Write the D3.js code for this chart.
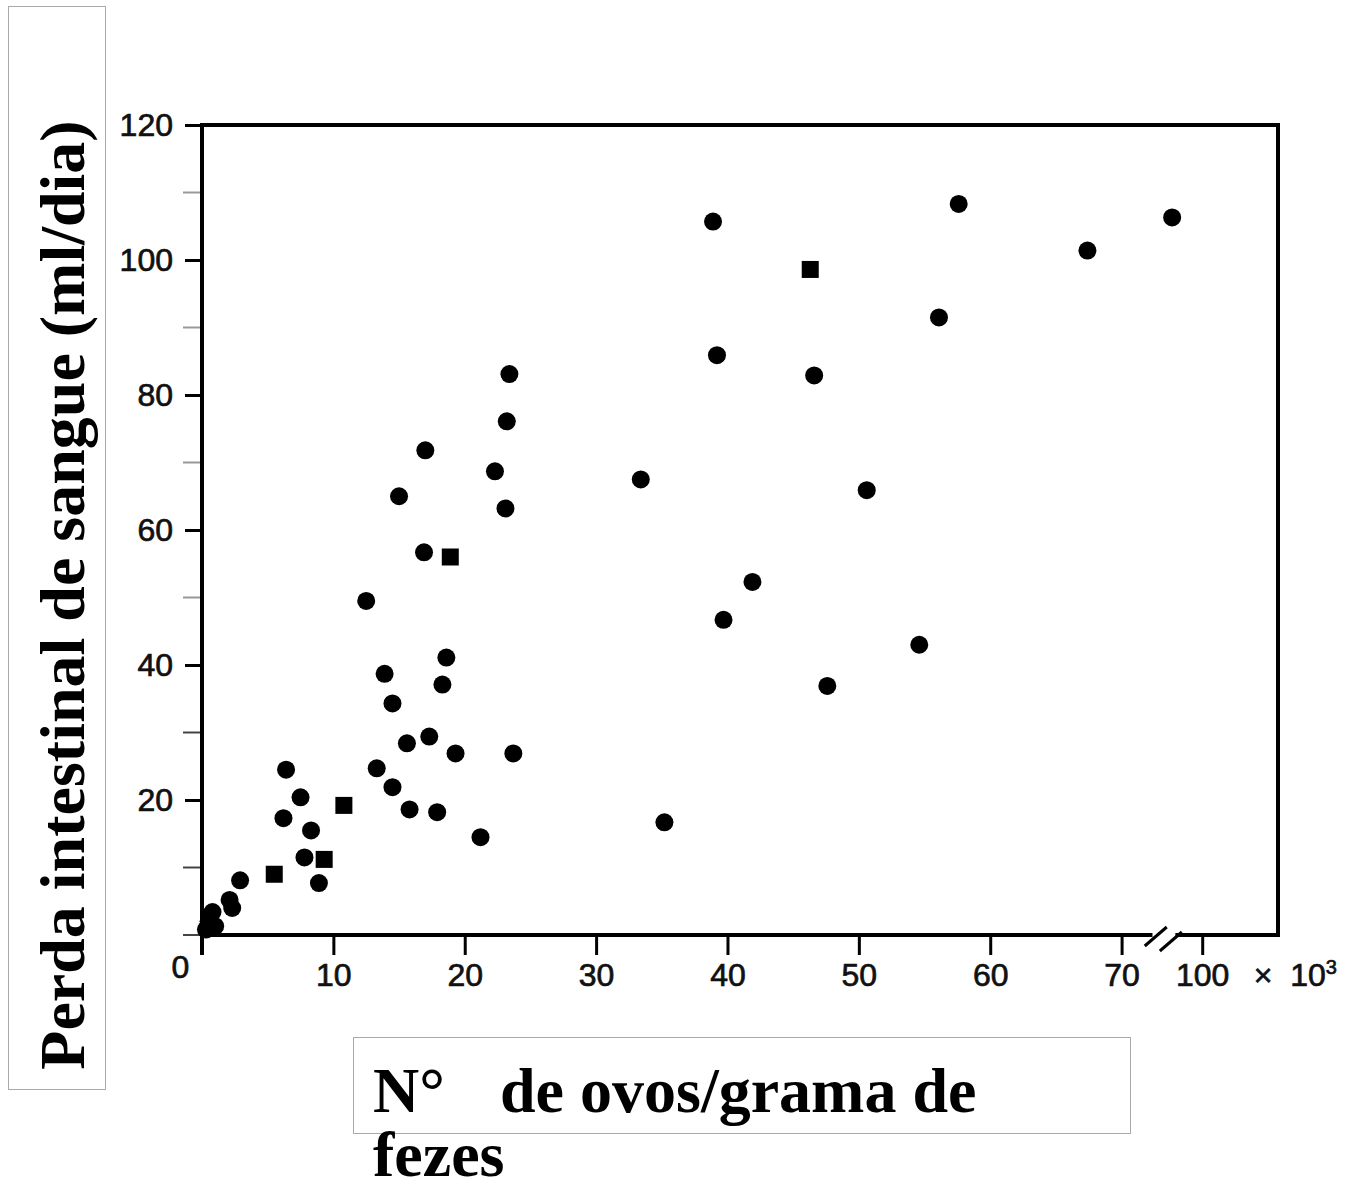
<!DOCTYPE html>
<html>
<head>
<meta charset="utf-8">
<script src="https://cdn.jsdelivr.net/npm/d3@7"></script>
<style>
  body { margin: 0; background: #fff; }
</style>
</head>
<body>
<svg width="1349" height="1190"></svg>
<script>
// values: eggs per gram (x 10^3) vs blood loss (ml/day)
const circleEggs  = [38.9, 57.6, 97.7, 67.4, 56.1, 39.2, 46.6, 23.4, 23.2, 17.0, 22.3, 33.4, 15.0, 50.6, 23.1, 16.9,
                     12.5, 41.9, 39.7, 54.6, 47.6, 13.9, 18.6, 18.3, 14.5, 15.6, 17.3, 19.3, 23.7, 13.3, 14.5, 15.8,
                     17.9, 21.2, 35.2, 6.4, 7.5, 6.2, 8.3, 7.8, 8.9, 2.9, 2.1, 2.3, 0.8, 0.5, 0.3, 1.0];
const circleBlood = [105.7, 108.3, 106.3, 101.4, 91.5, 85.9, 82.9, 83.1, 76.1, 71.8, 68.7, 67.5, 65.0, 65.9, 63.2, 56.7,
                     49.5, 52.3, 46.7, 43.0, 36.9, 38.7, 41.1, 37.1, 34.3, 28.4, 29.4, 26.9, 26.9, 24.7, 21.9, 18.6,
                     18.2, 14.5, 16.7, 24.5, 20.4, 17.3, 15.5, 11.5, 7.7, 8.1, 5.2, 4.0, 3.4, 2.0, 0.8, 1.3];
const squareEggs  = [46.3, 18.9, 10.8, 9.3, 5.5];
const squareBlood = [98.6, 56.0, 19.2, 11.2, 9.0];

const xTicks = [0, 10, 20, 30, 40, 50, 60, 70, 100];
const yTicks = [20, 40, 60, 80, 100, 120];
const yMinorTicks = [0, 10, 30, 50, 70, 90, 110];

const yTitle = 'Perda intestinal de sangue (ml/dia)';
const xTitle1 = 'N°';
const xTitle2 = 'de ovos/grama de';
const xTitle3 = 'fezes';

const svg = d3.select('svg');

// broken x axis: 0..73 then 97..105.8
const x = d3.scaleLinear()
  .domain([0, 73, 97, 105.8])
  .range([202, 1161, 1163, 1278]);
const y = d3.scaleLinear()
  .domain([0, 120])
  .range([935, 125]);

const tickFont = '"Liberation Sans", Arial, sans-serif';

function styleTickText(sel) {
  sel.attr('font-family', tickFont)
    .attr('font-size', 32)
    .attr('fill', '#111')
    .attr('stroke', '#111')
    .attr('stroke-width', 0.7);
}

// minor y ticks (faint)
svg.append('g')
  .selectAll('line')
  .data(yMinorTicks)
  .join('line')
  .attr('x1', x(0) - 19)
  .attr('x2', x(0) - 2)
  .attr('y1', d => y(d))
  .attr('y2', d => y(d))
  .attr('stroke', d => (d < 40 ? '#444' : '#999'))
  .attr('stroke-width', 2);

// y axis
const gy = svg.append('g')
  .attr('transform', `translate(${x(0)},0)`)
  .call(d3.axisLeft(y).tickValues(yTicks).tickSize(17).tickPadding(12));
gy.select('.domain').remove();
gy.selectAll('line').attr('stroke', '#000').attr('stroke-width', 3);
gy.selectAll('text').call(styleTickText);

// x axis
const gx = svg.append('g')
  .attr('transform', `translate(0,${y(0)})`)
  .call(d3.axisBottom(x).tickValues(xTicks).tickSize(20).tickPadding(8).tickFormat(d3.format('d')));
gx.select('.domain').remove();
gx.selectAll('line').attr('stroke', '#000').attr('stroke-width', 3);
gx.selectAll('text').call(styleTickText);
gx.selectAll('.tick')
  .filter(d => d === 0)
  .select('text')
  .attr('x', -22)
  .attr('y', 20);
gx.selectAll('.tick')
  .filter(d => d === 0)
  .select('line')
  .attr('y2', 18);

// "x 10^3" after the 100 label
const unit = svg.append('g');
unit.append('text')
  .attr('x', x(100) + 61)
  .attr('y', y(0) + 28)
  .attr('dy', '0.71em')
  .attr('text-anchor', 'middle')
  .text('×')
  .call(styleTickText);
unit.append('text')
  .attr('x', x(100) + 88)
  .attr('y', y(0) + 28)
  .attr('dy', '0.71em')
  .text('10')
  .call(styleTickText)
  .append('tspan')
  .attr('dy', -12)
  .attr('font-size', 20)
  .text('3');

// frame
const frame = svg.append('g')
  .attr('stroke', '#000')
  .attr('stroke-width', 4)
  .attr('stroke-linecap', 'square')
  .attr('fill', 'none');
frame.append('line')
  .attr('x1', x(0)).attr('x2', x(105.8))
  .attr('y1', y(120)).attr('y2', y(120));
frame.append('line')
  .attr('x1', x(105.8)).attr('x2', x(105.8))
  .attr('y1', y(120)).attr('y2', y(0));
frame.append('line')
  .attr('x1', x(0)).attr('x2', x(0))
  .attr('y1', y(120)).attr('y2', y(0) + 18);
frame.append('line')
  .attr('x1', x(0)).attr('x2', x(72.2))
  .attr('y1', y(0)).attr('y2', y(0));
frame.append('line')
  .attr('x1', x(98.1)).attr('x2', x(105.8))
  .attr('y1', y(0)).attr('y2', y(0));

// axis break marks
const breakCentres = [72.6, 97.6];
svg.append('g')
  .selectAll('line')
  .data(breakCentres)
  .join('line')
  .attr('x1', d => x(d) - 11)
  .attr('x2', d => x(d) + 11)
  .attr('y1', (d, i) => y(0) + 11 + i * 5)
  .attr('y2', (d, i) => y(0) - 8 + i * 5)
  .attr('stroke', '#000')
  .attr('stroke-width', 3);

// points
svg.append('g')
  .selectAll('circle')
  .data(d3.zip(circleEggs, circleBlood))
  .join('circle')
  .attr('cx', d => x(d[0]))
  .attr('cy', d => y(d[1]))
  .attr('r', 9)
  .attr('fill', '#000');

const sq = 17;
svg.append('g')
  .selectAll('rect')
  .data(d3.zip(squareEggs, squareBlood))
  .join('rect')
  .attr('x', d => x(d[0]) - sq / 2)
  .attr('y', d => y(d[1]) - sq / 2)
  .attr('width', sq)
  .attr('height', sq)
  .attr('fill', '#000');

// title boxes
const titleFont = '"Liberation Serif", "Times New Roman", serif';
svg.append('rect')
  .attr('x', 8.5).attr('y', 6.5)
  .attr('width', 97).attr('height', 1083)
  .attr('fill', 'none')
  .attr('stroke', '#aaa')
  .attr('stroke-width', 1);
svg.append('text')
  .attr('transform', 'translate(84,595) rotate(-90)')
  .attr('text-anchor', 'middle')
  .attr('font-family', titleFont)
  .attr('font-weight', 'bold')
  .attr('font-size', 64)
  .attr('fill', '#000')
  .text(yTitle);

svg.append('rect')
  .attr('x', 353.5).attr('y', 1037.5)
  .attr('width', 777).attr('height', 96)
  .attr('fill', 'none')
  .attr('stroke', '#aaa')
  .attr('stroke-width', 1);
const xt = svg.append('g')
  .attr('font-family', titleFont)
  .attr('font-weight', 'bold')
  .attr('font-size', 64)
  .attr('fill', '#000');
xt.append('text').attr('x', 373).attr('y', 1112).text(xTitle1);
xt.append('text').attr('x', 500).attr('y', 1112).text(xTitle2);
xt.append('text').attr('x', 373).attr('y', 1176).text(xTitle3);
</script>
</body>
</html>
